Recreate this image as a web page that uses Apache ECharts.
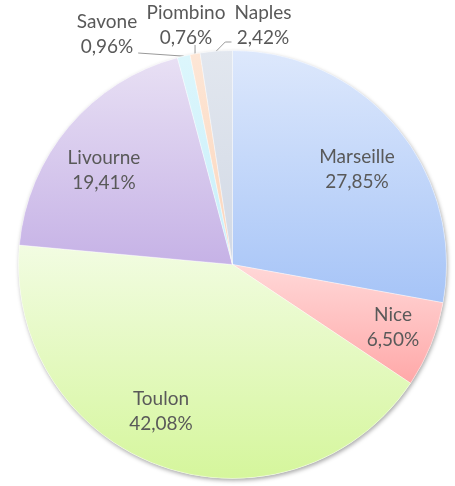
<!DOCTYPE html>
<html>
<head>
<meta charset="utf-8">
<script src="https://cdn.jsdelivr.net/npm/echarts@6/dist/echarts.min.js"></script>
<style>
  html, body { margin: 0; padding: 0; background: #fff; }
  #chart { width: 455px; height: 486px; }
</style>
</head>
<body>
<div id="chart"></div>
<script>
// 数据
const ports = ["Marseille", "Nice", "Toulon", "Livourne", "Savone", "Piombino", "Naples"];
const shares = [27.85, 6.50, 42.08, 19.41, 0.96, 0.76, 2.42];

// 每个扇区的渐变色（上浅下深）
const topColors = ["#dde8fc", "#ffd8d8", "#f2fce2", "#e8e0f4", "#dcf6fc", "#fde6d6", "#e2e7ef"];
const bottomColors = ["#a6c4f7", "#ffa8a8", "#d5f69c", "#c6b2e6", "#c8effa", "#fbd5bb", "#d2d9e5"];

// 标签中心位置（像素）
const labelSpots = [[357, 169], [393, 327], [161, 411], [104, 170], [107, 34], [186, 25], [263, 25]];

const chart = echarts.init(document.getElementById("chart"));

const pieCenter = [232.5, 264.5];
const pieRadius = 214;

const data = ports.map((name, i) => ({
  name,
  value: shares[i],
  itemStyle: {
    color: new echarts.graphic.LinearGradient(0, 0, 0, 1, [
      { offset: 0, color: topColors[i] },
      { offset: 1, color: bottomColors[i] }
    ])
  },
  label: { position: i >= 4 ? "outside" : "inside" },
  labelLine: { show: i >= 4 }
}));

// 小扇区的引导线：从扇区外缘指向标签
function guideLine(i, anchor, s, w, h) {
  const [ax, ay] = anchor;
  if (i === 4) return [[ax, ay], [s[0] + w / 2 + 1, s[1] + h * 0.38]];
  if (i === 5) return [[ax, ay], [ax, s[1] + h * 0.4]];
  if (i === 6) return [[ax, ay], [ax + 9, s[1] + h * 0.34], [s[0] - w / 2 - 3, s[1] + h * 0.34]];
  return null;
}

const option = {
  animation: false,
  series: [
    {
      // 阴影底板
      type: "pie",
      silent: true,
      center: pieCenter,
      radius: pieRadius,
      label: { show: false },
      labelLine: { show: false },
      itemStyle: {
        color: "#fff",
        shadowColor: "rgba(0,0,0,0.35)",
        shadowBlur: 4,
        shadowOffsetX: 1,
        shadowOffsetY: 2
      },
      data: [{ value: 1, name: "" }]
    },
    {
      type: "pie",
      center: pieCenter,
      radius: pieRadius,
      startAngle: 90,
      clockwise: true,
      avoidLabelOverlap: false,
      itemStyle: { borderColor: "rgba(255,255,255,0.6)", borderWidth: 0.6 },
      label: {
        show: true,
        fontFamily: "Lato",
        fontSize: 19,
        lineHeight: 25,
        color: "#595959",
        align: "center",
        formatter: (p) => p.name + "\n" + p.value.toFixed(2).replace(".", ",") + "%"
      },
      labelLine: {
        length: 8,
        length2: 8,
        lineStyle: { color: "#999999", width: 1 }
      },
      labelLayout: (p) => {
        const s = labelSpots[p.dataIndex];
        const out = { x: s[0], y: s[1], align: "center", verticalAlign: "middle" };
        if (p.labelLinePoints) {
          const pts = guideLine(p.dataIndex, p.labelLinePoints[0], s, p.labelRect.width, p.labelRect.height);
          if (pts) out.labelLinePoints = pts;
        }
        return out;
      },
      data
    }
  ]
};
chart.setOption(option);
</script>
</body>
</html>
